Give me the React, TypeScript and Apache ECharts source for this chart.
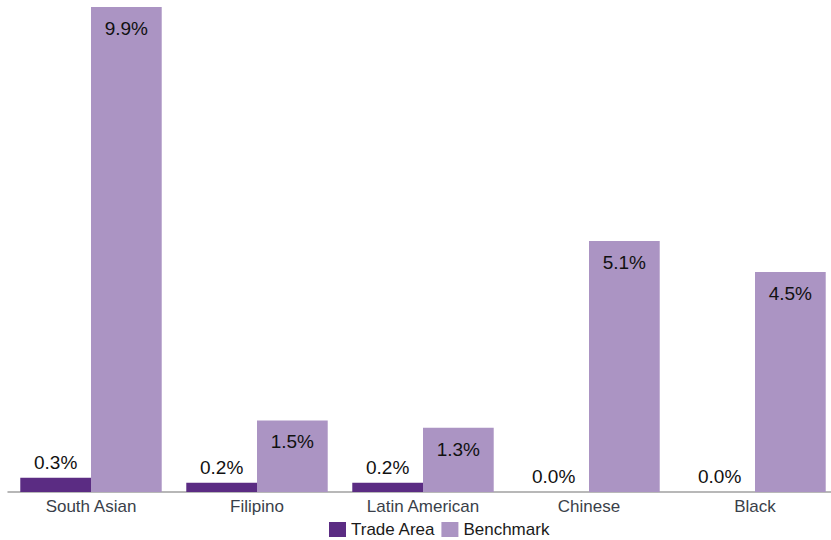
import React, { useEffect, useRef } from "react";
import * as echarts from "echarts";

const categories = ["South Asian", "Filipino", "Latin American", "Chinese", "Black"];
const tradeArea = [0.29, 0.19, 0.19, 0.0, 0.0];
const benchmark = [9.9, 1.46, 1.31, 5.12, 4.49];

export default function App() {
  const ref = useRef<HTMLDivElement>(null);
  useEffect(() => {
    const chart = echarts.init(ref.current!, null, { renderer: "svg" });
    const font = "'Liberation Sans', Arial, sans-serif";
    const fmt = (p: any) => Number(p.value).toFixed(1) + "%";
    chart.setOption({
      animation: false,
      textStyle: { fontFamily: font },
      grid: { left: 8, top: 2, width: 830, height: 490, containLabel: false },
      legend: {
        top: 516,
        left: 324,
        itemWidth: 17,
        itemHeight: 15,
        itemGap: 6,
        icon: "rect",
        textStyle: { fontSize: 17, color: "#1a1a1a", fontFamily: font },
        data: ["Trade Area", "Benchmark"],
      },
      xAxis: {
        type: "category",
        data: categories,
        axisLine: { lineStyle: { color: "#a0a0a0", width: 1.5 } },
        axisTick: { show: false },
        axisLabel: { fontSize: 17, color: "#3a3f4a", margin: 6, fontFamily: font },
      },
      yAxis: {
        type: "value",
        min: 0,
        max: 10,
        show: false,
        splitLine: { show: false },
      },
      series: [
        {
          name: "Trade Area",
          type: "bar",
          data: tradeArea,
          barGap: "0%",
          barCategoryGap: "14.8%",
          itemStyle: { color: "#5b2c83" },
          label: {
            show: true,
            position: "top",
            distance: 6,
            formatter: fmt,
            fontSize: 19,
            color: "#111",
            fontFamily: font,
          },
        },
        {
          name: "Benchmark",
          type: "bar",
          data: benchmark,
          itemStyle: { color: "#ab94c3" },
          label: {
            show: true,
            position: "insideTop",
            distance: 12,
            formatter: fmt,
            fontSize: 19,
            color: "#111",
            fontFamily: font,
          },
        },
      ],
    });
    return () => chart.dispose();
  }, []);
  return (
    <div style={{ position: "absolute", left: 0, top: 0, width: 831, height: 540, overflow: "hidden" }}>
      <div ref={ref} style={{ width: 840, height: 540 }} />
    </div>
  );
}
